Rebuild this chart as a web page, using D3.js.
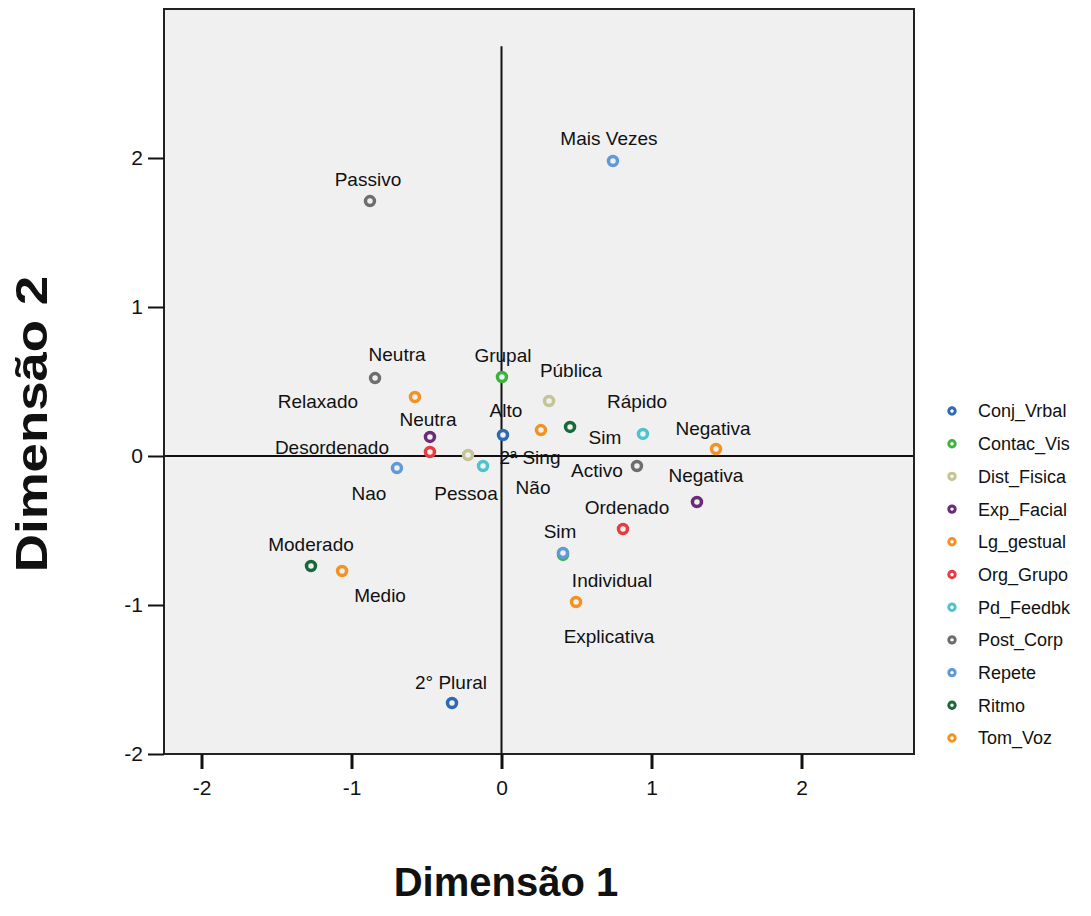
<!DOCTYPE html>
<html>
<head>
<meta charset="utf-8">
<script src="https://cdn.jsdelivr.net/npm/d3@7"></script>
<style>
  html, body { margin: 0; padding: 0; background: #ffffff; }
  svg { display: block; }
  text { font-family: "Liberation Sans", Arial, sans-serif; }
</style>
</head>
<body>
<svg id="chart" width="1091" height="916"></svg>
<script>
// ---------- DATA ----------
const variables = ["Conj_Vrbal", "Contac_Vis", "Dist_Fisica", "Exp_Facial", "Lg_gestual",
                   "Org_Grupo", "Pd_Feedbk", "Post_Corp", "Repete", "Ritmo", "Tom_Voz"];
const variableColors = ["#2d6bb0", "#3cb43c", "#c4c496", "#6a2c78", "#f39222",
                        "#e83a42", "#4cc4ca", "#6e6e6e", "#5e9ad8", "#17693a", "#f39222"];

const categoryLabels = ["2ª Sing", "2° Plural",
                        "Grupal", "Individual",
                        "Pública", "Pessoa",
                        "Neutra", "Negativa",
                        "Relaxado", "Negativa", "Explicativa",
                        "Desordenado", "Ordenado",
                        "Sim", "Não",
                        "Passivo", "Neutra", "Activo",
                        "Mais Vezes", "Nao", "Sim",
                        "Rápido", "Moderado",
                        "Alto", "Medio"];
const categoryVariable = ["Conj_Vrbal", "Conj_Vrbal",
                          "Contac_Vis", "Contac_Vis",
                          "Dist_Fisica", "Dist_Fisica",
                          "Exp_Facial", "Exp_Facial",
                          "Lg_gestual", "Lg_gestual", "Lg_gestual",
                          "Org_Grupo", "Org_Grupo",
                          "Pd_Feedbk", "Pd_Feedbk",
                          "Post_Corp", "Post_Corp", "Post_Corp",
                          "Repete", "Repete", "Repete",
                          "Ritmo", "Ritmo",
                          "Tom_Voz", "Tom_Voz"];
const dimension1 = [0.01, -0.33,
                    0.003, 0.41,
                    0.317, -0.223,
                    -0.477, 1.303,
                    -0.577, 1.43, 0.497,
                    -0.477, 0.81,
                    0.943, -0.123,
                    -0.877, -0.843, 0.903,
                    0.743, -0.697, 0.41,
                    0.457, -1.27,
                    0.263, -1.063];
const dimension2 = [0.141, -1.658,
                    0.530, -0.664,
                    0.369, 0.007,
                    0.128, -0.309,
                    0.396, 0.047, -0.98,
                    0.027, -0.49,
                    0.148, -0.067,
                    1.711, 0.523, -0.067,
                    1.980, -0.081, -0.651,
                    0.195, -0.738,
                    0.174, -0.772];

const xTicks = [-2, -1, 0, 1, 2];
const yTicks = [-2, -1, 0, 1, 2];

// label placement (pixel offsets from each point to its label centre)
const labelOffsets = [[27, 22], [-1, -21],
                      [1, -22], [49, 25],
                      [22, -31], [-2, 38],
                      [-2, -18], [9, -27],
                      [-97, 4], [-3, -21], [33, 34],
                      [-98, -5], [4, -22],
                      [-38, 3], [50, 21],
                      [-2, -22], [22, -24], [-40, 4],
                      [-4, -23], [-28, 25], [-3, -22],
                      [67, -26], [0, -22],
                      [-35, -20], [38, 24]];

// ---------- CHART ----------
const svg = d3.select("#chart");
const plot = { left: 164, right: 914, top: 9, bottom: 754 };

const x = d3.scaleLinear().domain([-2.25, 2.75]).range([plot.left, plot.right]);
const y = d3.scaleLinear().domain([-2, 3]).range([plot.bottom, plot.top]);
const color = d3.scaleOrdinal().domain(variables).range(variableColors);

// plot background
svg.append("rect")
  .attr("x", plot.left).attr("y", plot.top)
  .attr("width", plot.right - plot.left).attr("height", plot.bottom - plot.top)
  .attr("fill", "#f0f0f0");

// reference lines
svg.append("line")
  .attr("x1", x(0)).attr("x2", x(0))
  .attr("y1", y(2.75)).attr("y2", y(-2))
  .attr("stroke", "#111").attr("stroke-width", 2);
svg.append("line")
  .attr("x1", x(-2.25)).attr("x2", x(2.75))
  .attr("y1", y(0)).attr("y2", y(0))
  .attr("stroke", "#111").attr("stroke-width", 2);

// frame
svg.append("rect")
  .attr("x", plot.left).attr("y", plot.top)
  .attr("width", plot.right - plot.left).attr("height", plot.bottom - plot.top)
  .attr("fill", "none").attr("stroke", "#222").attr("stroke-width", 2);

// axes
const xAxis = svg.append("g")
  .attr("transform", `translate(0,${plot.bottom})`)
  .call(d3.axisBottom(x).tickValues(xTicks).tickSize(15).tickPadding(11)
        .tickFormat(d => String(d)));
xAxis.select(".domain").remove();
xAxis.selectAll(".tick line").attr("stroke", "#111").attr("stroke-width", 3);
xAxis.selectAll(".tick text").attr("font-size", 21).attr("fill", "#111")
  .attr("font-family", "'Liberation Sans', Arial, sans-serif");

const yAxis = svg.append("g")
  .attr("transform", `translate(${plot.left},0)`)
  .call(d3.axisLeft(y).tickValues(yTicks).tickSize(16).tickPadding(5)
        .tickFormat(d => String(d)));
yAxis.select(".domain").remove();
yAxis.selectAll(".tick line").attr("stroke", "#111").attr("stroke-width", 2);
yAxis.selectAll(".tick text").attr("font-size", 21).attr("fill", "#111")
  .attr("font-family", "'Liberation Sans', Arial, sans-serif");

// points
const points = categoryLabels.map((label, i) => ({
  label, variable: categoryVariable[i], d1: dimension1[i], d2: dimension2[i],
  off: labelOffsets[i]
}));

svg.append("g").selectAll("circle").data(points).join("circle")
  .attr("cx", d => x(d.d1)).attr("cy", d => y(d.d2))
  .attr("r", 4.5)
  .attr("fill", "#f0f0f0")
  .attr("stroke", d => color(d.variable))
  .attr("stroke-width", 3.5);

svg.append("g").selectAll("text").data(points).join("text")
  .attr("x", d => x(d.d1) + d.off[0])
  .attr("y", d => y(d.d2) + d.off[1])
  .attr("dy", "0.36em")
  .attr("text-anchor", "middle")
  .attr("font-size", 19)
  .attr("fill", "#111")
  .text(d => d.label);

// axis titles
svg.append("text")
  .attr("x", 506).attr("y", 896)
  .attr("text-anchor", "middle")
  .attr("font-size", 40).attr("font-weight", "bold").attr("fill", "#111")
  .text("Dimensão 1");
svg.append("text")
  .attr("transform", "translate(47,424) rotate(-90) scale(1.2,1)")
  .attr("text-anchor", "middle")
  .attr("font-size", 44).attr("font-weight", "bold").attr("fill", "#111")
  .text("Dimensão 2");

// legend
const legend = svg.append("g");
const legendItems = legend.selectAll("g").data(variables).join("g")
  .attr("transform", (d, i) => `translate(952,${411 + i * 32.7})`);
legendItems.append("circle")
  .attr("r", 3.2).attr("fill", "#ffffff")
  .attr("stroke", d => color(d)).attr("stroke-width", 3);
legendItems.append("text")
  .attr("x", 26).attr("dy", "0.36em")
  .attr("font-size", 18).attr("fill", "#111")
  .text(d => d);
</script>
</body>
</html>
